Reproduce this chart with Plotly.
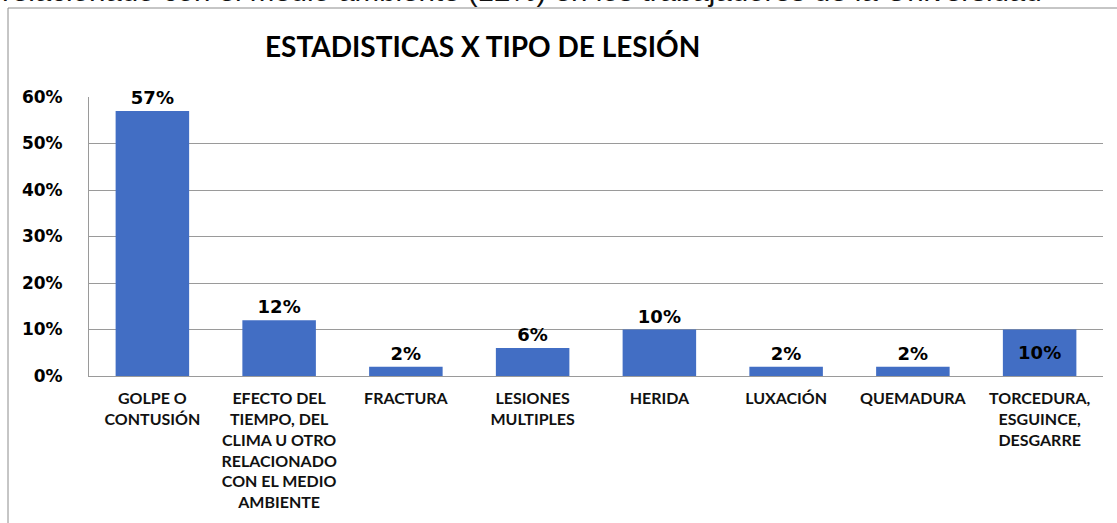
import plotly.graph_objects as go

# Injury types and their share of reported cases
categories = [
    "GOLPE O<br>CONTUSIÓN",
    "EFECTO DEL<br>TIEMPO, DEL<br>CLIMA U OTRO<br>RELACIONADO<br>CON EL MEDIO<br>AMBIENTE",
    "FRACTURA",
    "LESIONES<br>MULTIPLES",
    "HERIDA",
    "LUXACIÓN",
    "QUEMADURA",
    "TORCEDURA,<br>ESGUINCE,<br>DESGARRE",
]
values = [0.57, 0.12, 0.02, 0.06, 0.10, 0.02, 0.02, 0.10]
label_positions = ["outside"] * 7 + ["inside"]

tick_vals = [0, 0.1, 0.2, 0.3, 0.4, 0.5, 0.6]
tick_text = ["0%", "10%", "20%", "30%", "40%", "50%", "60%"]

W, H = 1117, 523
L, R, T, B = 89, 14, 97, 147
PW, PH = W - L - R, H - T - B


def px_x(x):
    return (x - L) / PW


def px_y(y):
    return (H - B - y) / PH


fig = go.Figure(
    go.Bar(
        x=categories,
        y=values,
        text=[f"{v:.0%}" for v in values],
        textposition=label_positions,
        insidetextanchor="middle",
        cliponaxis=False,
        textfont=dict(family="DejaVu Sans", size=18, color="#000000", weight="bold"),
        marker=dict(color="#426ec4", line=dict(width=0)),
    )
)

fig.update_layout(
    width=W,
    height=H,
    margin=dict(l=L, r=R, t=T, b=B, pad=0),
    paper_bgcolor="white",
    plot_bgcolor="white",
    bargap=0.42,
    showlegend=False,
)

fig.update_yaxes(
    range=[0, 0.6],
    tickvals=tick_vals,
    ticktext=tick_text,
    showgrid=True,
    gridcolor="#9a9a9a",
    gridwidth=1,
    showline=True,
    linecolor="#9a9a9a",
    linewidth=1,
    zeroline=False,
    ticks="outside",
    ticklen=22,
    tickcolor="rgba(0,0,0,0)",
    tickfont=dict(family="DejaVu Sans", size=17, color="#000000", weight="bold"),
)

fig.update_xaxes(
    showline=True,
    linecolor="#9a9a9a",
    linewidth=1,
    ticks="outside",
    ticklen=8,
    tickcolor="rgba(0,0,0,0)",
    tickfont=dict(family="Lato", size=16, color="#111111", weight="bold"),
    tickangle=0,
)

# Chart frame (runs past the right and bottom edges of the page)
fig.add_shape(
    type="rect",
    xref="paper", yref="paper",
    x0=px_x(8), x1=px_x(W + 20),
    y0=px_y(H + 20), y1=px_y(8),
    line=dict(color="#8c8c8c", width=1),
    fillcolor="rgba(0,0,0,0)",
    layer="below",
)

# Chart title
fig.add_annotation(
    text="<b>ESTADISTICAS X TIPO DE LESIÓN</b>",
    xref="paper", yref="paper",
    x=px_x(482), y=px_y(46),
    xanchor="center", yanchor="middle",
    showarrow=False,
    font=dict(family="Lato", size=28, color="#000000"),
)

# Preceding line of the surrounding document text
fig.add_annotation(
    text="relacionado con el medio ambiente (12%) en los trabajadores de la Universidad",
    xref="paper", yref="paper",
    x=px_x(0), y=px_y(-9),
    xanchor="left", yanchor="middle",
    showarrow=False,
    font=dict(family="Liberation Sans", size=29.5, color="#111111"),
)

fig.write_html("out.html")
